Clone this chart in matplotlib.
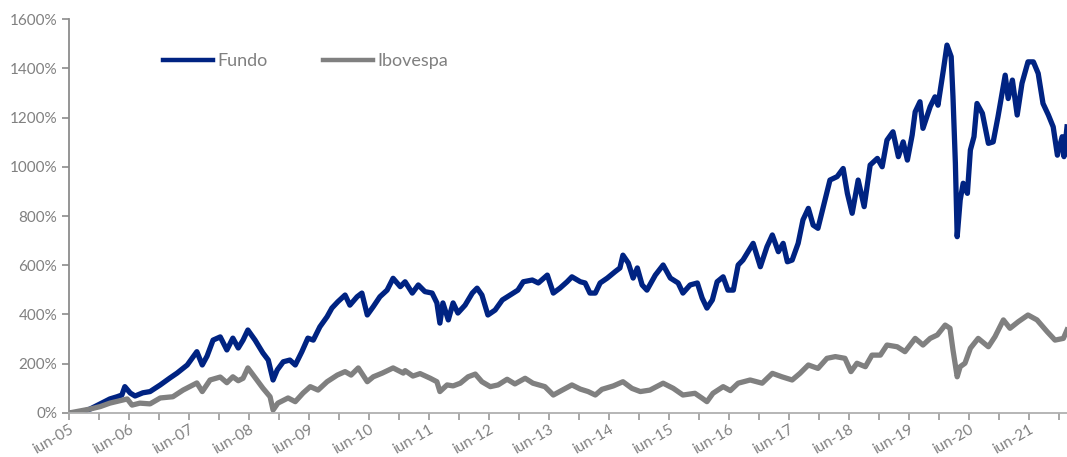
import numpy as np
import matplotlib.pyplot as plt

# datas em anos decimais (jun-05 = 2005.42), valores em %
fundo_t = [2005.42, 2005.60, 2005.77, 2005.94, 2006.10, 2006.22, 2006.30, 2006.35, 2006.44, 2006.52,
           2006.65, 2006.77, 2006.94, 2007.10, 2007.22, 2007.39, 2007.55, 2007.64, 2007.72, 2007.82,
           2007.94, 2008.05, 2008.15, 2008.24, 2008.32, 2008.40, 2008.52, 2008.65, 2008.74, 2008.82,
           2008.89, 2008.99, 2009.10, 2009.19, 2009.30, 2009.40, 2009.49, 2009.60, 2009.72, 2009.80,
           2009.90, 2010.02, 2010.10, 2010.22, 2010.30, 2010.39, 2010.49, 2010.60, 2010.72, 2010.82,
           2010.94, 2011.02, 2011.14, 2011.24, 2011.35, 2011.47, 2011.55, 2011.60, 2011.65, 2011.74,
           2011.82, 2011.90, 2012.02, 2012.14, 2012.22, 2012.30, 2012.40, 2012.52, 2012.64, 2012.77,
           2012.90, 2012.99, 2013.14, 2013.24, 2013.39, 2013.49, 2013.60, 2013.72, 2013.80, 2013.94,
           2014.02, 2014.10, 2014.19, 2014.27, 2014.39, 2014.52, 2014.60, 2014.65, 2014.74, 2014.82,
           2014.89, 2014.97, 2015.05, 2015.19, 2015.32, 2015.44, 2015.57, 2015.65, 2015.77, 2015.89,
           2015.97, 2016.05, 2016.14, 2016.22, 2016.32, 2016.40, 2016.49, 2016.57, 2016.65, 2016.77,
           2016.82, 2016.94, 2017.05, 2017.14, 2017.24, 2017.32, 2017.39, 2017.47, 2017.57, 2017.65,
           2017.74, 2017.82, 2017.90, 2017.99, 2018.10, 2018.22, 2018.32, 2018.39, 2018.47, 2018.57,
           2018.67, 2018.77, 2018.89, 2018.97, 2019.05, 2019.15, 2019.24, 2019.32, 2019.39, 2019.47,
           2019.52, 2019.60, 2019.65, 2019.77, 2019.85, 2019.90, 2019.99, 2020.05, 2020.12, 2020.15,
           2020.19, 2020.22, 2020.27, 2020.32, 2020.39, 2020.44, 2020.50, 2020.55, 2020.64, 2020.74,
           2020.82, 2020.90, 2021.02, 2021.07, 2021.14, 2021.22, 2021.30, 2021.40, 2021.49, 2021.57,
           2021.65, 2021.74, 2021.82, 2021.89, 2021.97, 2022.00, 2022.05]
fundo_v = [0, 1, 16, 37, 57, 66, 73, 107, 81, 69,
           82, 87, 114, 142, 162, 195, 249, 195, 231, 296,
           309, 256, 304, 264, 296, 337, 296, 244, 215, 134,
           175, 208, 215, 195, 249, 304, 296, 350, 391, 426,
           452, 479, 438, 472, 487, 398, 432, 472, 499, 547,
           513, 533, 487, 520, 493, 487, 447, 365, 447, 378,
           447, 406, 438, 487, 507, 479, 398, 418, 459, 479,
           499, 533, 540, 528, 560, 487, 507, 533, 553, 533,
           528, 487, 487, 528, 548, 574, 589, 641, 609, 548,
           589, 520, 499, 560, 601, 548, 528, 487, 520, 528,
           467, 426, 459, 533, 553, 499, 499, 601, 621, 669,
           689, 594, 675, 723, 655, 689, 614, 621, 689, 784,
           831, 763, 750, 838, 946, 960, 993, 892, 811, 946,
           838, 1007, 1034, 1000, 1108, 1142, 1041, 1101, 1027, 1129,
           1223, 1264, 1156, 1244, 1284, 1250, 1393, 1494, 1447, 1284,
           1014, 716, 865, 933, 892, 1068, 1122, 1257, 1217, 1095,
           1101, 1203, 1372, 1277, 1352, 1210, 1339, 1426, 1426, 1379,
           1257, 1210, 1162, 1047, 1122, 1041, 1162]

ibov_t = [2005.42, 2005.77, 2005.94, 2006.10, 2006.27, 2006.39, 2006.47, 2006.60, 2006.77, 2006.94,
          2007.15, 2007.32, 2007.55, 2007.64, 2007.77, 2007.94, 2008.05, 2008.15, 2008.24, 2008.32,
          2008.40, 2008.55, 2008.65, 2008.77, 2008.82, 2008.90, 2009.07, 2009.19, 2009.32, 2009.44,
          2009.57, 2009.72, 2009.89, 2010.02, 2010.12, 2010.24, 2010.39, 2010.49, 2010.64, 2010.82,
          2010.99, 2011.02, 2011.15, 2011.27, 2011.44, 2011.55, 2011.60, 2011.72, 2011.82, 2011.94,
          2012.07, 2012.19, 2012.30, 2012.44, 2012.57, 2012.72, 2012.85, 2013.02, 2013.15, 2013.35,
          2013.49, 2013.64, 2013.80, 2013.94, 2014.07, 2014.19, 2014.30, 2014.49, 2014.65, 2014.80,
          2014.94, 2015.10, 2015.32, 2015.49, 2015.65, 2015.85, 2015.97, 2016.05, 2016.15, 2016.32,
          2016.44, 2016.57, 2016.77, 2016.97, 2017.14, 2017.30, 2017.47, 2017.60, 2017.74, 2017.90,
          2018.05, 2018.19, 2018.35, 2018.45, 2018.55, 2018.69, 2018.80, 2018.94, 2019.05, 2019.22,
          2019.35, 2019.52, 2019.65, 2019.77, 2019.89, 2020.02, 2020.10, 2020.15, 2020.22, 2020.27,
          2020.35, 2020.44, 2020.57, 2020.74, 2020.85, 2020.99, 2021.10, 2021.24, 2021.40, 2021.55,
          2021.72, 2021.85, 2021.99, 2022.05]
ibov_v = [0, 16, 26, 40, 50, 57, 32, 40, 37, 61,
          66, 93, 122, 87, 134, 146, 123, 147, 131, 141,
          183, 134, 101, 66, 12, 40, 61, 46, 81, 107,
          93, 127, 154, 168, 154, 183, 127, 147, 162, 183,
          162, 172, 150, 160, 141, 127, 87, 114, 110, 121,
          147, 158, 127, 107, 114, 137, 118, 141, 121, 107,
          73, 93, 114, 97, 87, 73, 96, 110, 127, 100,
          87, 93, 121, 100, 73, 80, 60, 46, 80, 107,
          91, 121, 134, 121, 161, 147, 134, 161, 195, 181,
          222, 229, 222, 168, 202, 188, 235, 235, 276, 269,
          249, 303, 276, 303, 317, 357, 344, 256, 147, 188,
          202, 263, 303, 269, 310, 378, 344, 371, 398, 378,
          330, 296, 303, 337]

anos = list(range(2005, 2022))
tick_labels = ['iun-%02d' % (a % 100) for a in anos]

cinza = '#808080'
azul = '#002382'

plt.rcParams['font.family'] = ['Lato', 'DejaVu Sans']

fig = plt.figure(figsize=(10.67, 4.57), dpi=100)
ax = fig.add_axes([0.0647, 0.0963, 0.9353, 0.8621])

ax.plot(fundo_t, fundo_v, color=azul, lw=3.8, label='Fundo', solid_joinstyle='round')
ax.plot(ibov_t, ibov_v, color=cinza, lw=3.8, label='Ibovespa', solid_joinstyle='round')

ax.set_xlim(2005.42, 2022.05)
ax.set_ylim(0, 1600)

ax.set_yticks(np.arange(0, 1601, 200))
ax.set_yticklabels(['%d%%' % v for v in range(0, 1601, 200)])

major = [a + 0.42 for a in anos]
ax.set_xticks(major)
ax.set_xticks([a + 0.92 for a in anos], minor=True)
ax.set_xticklabels(tick_labels, rotation=30, ha='right', va='top', rotation_mode='anchor')

for s in ['top', 'right']:
    ax.spines[s].set_visible(False)
ax.spines['left'].set_color('#8c8c8c')
ax.spines['bottom'].set_color('#b0b0b0')
ax.spines['left'].set_linewidth(1.3)
ax.spines['bottom'].set_linewidth(1.3)

ax.tick_params(axis='y', colors='#8c8c8c', labelcolor=cinza, labelsize=11, length=5, width=1.2)
ax.tick_params(axis='x', which='both', colors='#999999', labelcolor=cinza, labelsize=11,
               length=5, width=1.2, pad=2)

leg = ax.legend(loc='center left', bbox_to_anchor=(0.1528, 0.8665), bbox_transform=fig.transFigure,
                ncol=2, frameon=False, fontsize=13, handlelength=2.75, handletextpad=0.25,
                columnspacing=3.1, borderpad=0, borderaxespad=0)
for line in leg.get_lines():
    line.set_linewidth(3.2)
for txt in leg.get_texts():
    txt.set_color(cinza)

plt.savefig('out.png', dpi=100)
